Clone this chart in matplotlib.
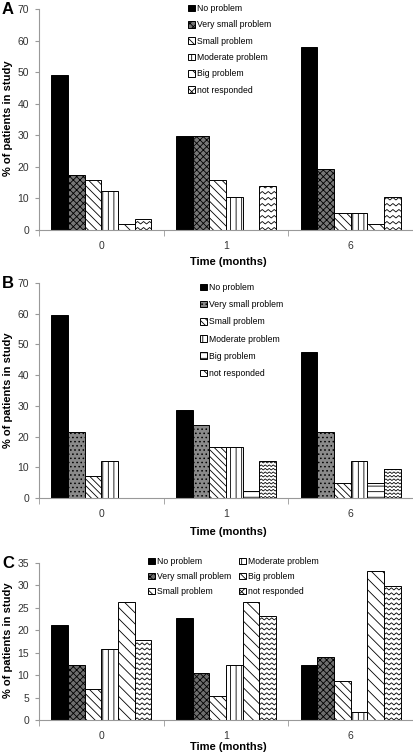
import numpy as np
import matplotlib
matplotlib.use("Agg")
import matplotlib.pyplot as plt
from matplotlib.patches import Patch

plt.rcParams['font.family'] = ['Liberation Sans', 'DejaVu Sans']
plt.rcParams['hatch.linewidth'] = 0.6

months = ["0", "1", "6"]
categories = ["No problem", "Very small problem", "Small problem",
              "Moderate problem", "Big problem", "not responded"]

# % of patients, rows = categories, columns = months
panel_a = [[49.1, 29.8, 57.9],
           [17.5, 29.8, 19.3],
           [15.8, 15.8, 5.3],
           [12.3, 10.5, 5.3],
           [1.8, 0.0, 1.8],
           [3.5, 14.0, 10.5]]
panel_b = [[59.5, 28.6, 47.6],
           [21.4, 23.8, 21.4],
           [7.1, 16.7, 4.8],
           [11.9, 16.7, 11.9],
           [0.0, 2.4, 4.8],
           [0.0, 11.9, 9.5]]
panel_c = [[21.1, 22.8, 12.3],
           [12.3, 10.5, 14.0],
           [7.0, 5.3, 8.8],
           [15.8, 12.3, 1.8],
           [26.3, 26.3, 33.3],
           [17.9, 23.2, 29.8]]

W, H = 414, 755
fig = plt.figure(figsize=(W / 100, H / 100), dpi=100)


def px_axes(left, top, right, bottom):
    return fig.add_axes([left / W, 1 - bottom / H, (right - left) / W, (bottom - top) / H])


def zigzag(ax, bar, gap=5.0, amp=2.2, period=5.0, lw=0.6):
    # draw wavy horizontal lines inside a bar, clipped to it
    pos = ax.get_position()
    x0, x1 = ax.get_xlim()
    y0, y1 = ax.get_ylim()
    ppx = pos.width * W / (x1 - x0)
    ppy = pos.height * H / (y1 - y0)
    bx, by, bw, bh = bar.get_x(), bar.get_y(), bar.get_width(), bar.get_height()
    if bh <= 0:
        return
    xs = np.arange(bx - period / ppx, bx + bw + period / ppx, period / 2 / ppx)
    offs = np.where(np.arange(len(xs)) % 2 == 1, amp / ppy, 0.0)
    for yy in np.arange(by - gap / ppy, by + bh + gap / ppy, gap / ppy):
        ln, = ax.plot(xs, yy + offs, color='black', lw=lw, solid_joinstyle='miter')
        ln.set_clip_path(bar)


def panel(ax, data, ymax, ystep, styles, legend_kw, zz):
    n = len(categories)
    group = 0.8
    w = group / n
    x = np.arange(len(months))
    handles = []
    for i, (vals, st) in enumerate(zip(data, styles)):
        fc, hatch = st
        ax.bar(x - group / 2 + w * (i + 0.5), vals, w, facecolor=fc,
               edgecolor='black', hatch=hatch, linewidth=0.7, zorder=2)
        handles.append(Patch(facecolor=fc, edgecolor='black', hatch=hatch or None,
                             linewidth=0.7, label=categories[i]))
    ax.set_xlim(-0.5, len(months) - 0.5)
    ax.set_ylim(0, ymax)
    if zz:
        for b in ax.containers[-1]:
            zigzag(ax, b, **zz)
        handles[-1] = Patch(facecolor='white', edgecolor='black', hatch='xx',
                            linewidth=0.7, label=categories[-1])
    ax.set_yticks(np.arange(0, ymax + 0.1, ystep))
    ax.set_xticks(x)
    ax.set_xticklabels(months)
    ax.set_xticks(np.arange(-0.5, len(months)), minor=True)
    ax.tick_params(axis='x', which='major', length=0, pad=8, labelsize=7.5, colors='#333333')
    ax.tick_params(axis='x', which='minor', length=4, color='#999999')
    ax.tick_params(axis='y', length=3, color='#999999', labelsize=7.5, labelcolor='#333333', pad=4)
    for s in ['top', 'right']:
        ax.spines[s].set_visible(False)
    for s in ['left', 'bottom']:
        ax.spines[s].set_color('#999999')
        ax.spines[s].set_linewidth(0.8)
    ax.legend(handles=handles, frameon=False, fontsize=6.2, handlelength=0.8,
              handleheight=0.8, handletextpad=0.25, borderpad=0, borderaxespad=0,
              bbox_transform=fig.transFigure, loc='upper left', **legend_kw)


ax_a = px_axes(39, 9, 413, 230)
ax_b = px_axes(39, 283, 413, 498)
ax_c = px_axes(39, 563, 413, 720)

styles_a = [('black', ''), ('#777777', 'xxxxx'), ('white', '\\\\\\\\'),
            ('white', '|||'), ('white', '\\\\\\'), ('white', '')]
styles_b = [('black', ''), ('#8a8a8a', '....'), ('white', '\\\\\\\\\\'),
            ('white', '|||'), ('white', '---'), ('white', '')]
styles_c = [('black', ''), ('#6e6e6e', 'xxxxx'), ('white', '\\\\\\\\'),
            ('white', '|||'), ('white', '\\\\\\'), ('white', '')]

panel(ax_a, panel_a, 70, 10, styles_a,
      dict(bbox_to_anchor=(188 / W, 1 - 4 / H), labelspacing=0.85), dict(gap=6, amp=2.5, period=6))
panel(ax_b, panel_b, 70, 10, styles_b,
      dict(bbox_to_anchor=(200 / W, 1 - 283 / H), labelspacing=0.95), dict(gap=3.5, amp=1.6, period=4))
panel(ax_c, panel_c, 35, 5, styles_c,
      dict(bbox_to_anchor=(148 / W, 1 - 557 / H), ncol=2, labelspacing=0.7,
           columnspacing=0.9), dict(gap=5, amp=2.2, period=5))

for letter, yp in [('A', 10), ('B', 284), ('C', 564)]:
    fig.text(2 / W, 1 - yp / H, letter, fontsize=12, fontweight='bold', va='center', ha='left')

for yp in [262, 532, 747]:
    fig.text(228 / W, 1 - yp / H, 'Time (months)', fontsize=8, fontweight='bold',
             ha='center', va='center')

for yp in [118, 390, 640]:
    fig.text(8 / W, 1 - yp / H, '% of patients in study', fontsize=8, fontweight='bold',
             rotation=90, ha='center', va='center')

fig.savefig('out.png', dpi=100)
